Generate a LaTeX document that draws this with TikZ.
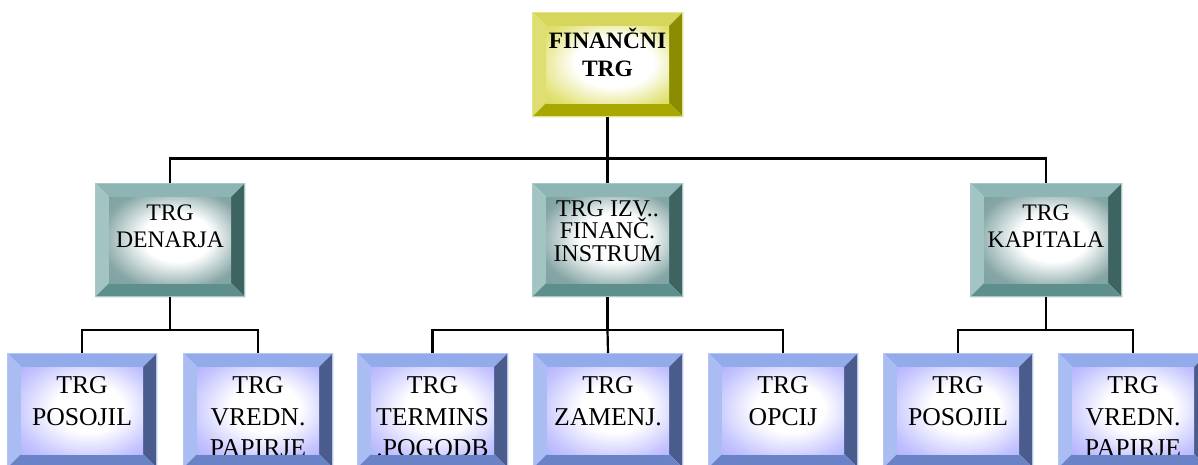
\documentclass[tikz,border=0pt]{standalone}
\usepackage{fontspec}
\setmainfont{Liberation Serif}
\definecolor{bluT}{HTML}{93ABEB}
\definecolor{bluL}{HTML}{A9BDF2}
\definecolor{bluR}{HTML}{4A5C8C}
\definecolor{bluB}{HTML}{6A82C6}
\definecolor{bluE}{HTML}{B4C4F4}
\definecolor{tealT}{HTML}{8DB5B3}
\definecolor{tealL}{HTML}{A2C4C2}
\definecolor{tealR}{HTML}{3E6462}
\definecolor{tealB}{HTML}{5F8F8D}
\definecolor{tealE}{HTML}{A8C8C6}
\definecolor{yelT}{HTML}{D6D65C}
\definecolor{yelL}{HTML}{DEDE72}
\definecolor{yelR}{HTML}{8C8C00}
\definecolor{yelB}{HTML}{A8A800}
\definecolor{yelE}{HTML}{E4E488}
\pgfdeclareradialshading{bluI}{\pgfpoint{4bp}{2bp}}{color(0bp)=(white); color(14bp)=(white); color(30bp)=(white!45!blue!42!white); color(50bp)=(white!20!blue!55!white)}
\pgfdeclareradialshading{tealI}{\pgfpoint{4bp}{2bp}}{color(0bp)=(white); color(14bp)=(white); color(30bp)=(white!55!teal!55!gray); color(50bp)=(white!35!teal!60!gray)}
\pgfdeclareradialshading{yelI}{\pgfpoint{4bp}{2bp}}{color(0bp)=(white); color(16bp)=(white); color(32bp)=(white!70!olive!80!yellow); color(50bp)=(white!50!olive!80!yellow)}
\def\bw{14}
\newcommand\bevbox[6]{%
  \node[boxnode, minimum width=#4, minimum height=#5] (#1) at (#2,#3) {};
  \fill[#6T] (#1.north west) -- (#1.north east) -- ([shift={(-\bw,\bw)}]#1.north east) -- ([shift={(\bw,\bw)}]#1.north west) -- cycle;
  \fill[#6L] (#1.north west) -- ([shift={(\bw,\bw)}]#1.north west) -- ([shift={(\bw,-\bw)}]#1.south west) -- (#1.south west) -- cycle;
  \fill[#6R] (#1.north east) -- ([shift={(-\bw,\bw)}]#1.north east) -- ([shift={(-\bw,-\bw)}]#1.south east) -- (#1.south east) -- cycle;
  \fill[#6B] (#1.south west) -- ([shift={(\bw,-\bw)}]#1.south west) -- ([shift={(-\bw,-\bw)}]#1.south east) -- (#1.south east) -- cycle;
  \shade[shading=#6I] ([shift={(\bw,\bw)}]#1.north west) rectangle ([shift={(-\bw,-\bw)}]#1.south east);
  \draw[#6E, line width=1pt] ([shift={(0.5,0.5)}]#1.north west) rectangle ([shift={(-0.5,-0.5)}]#1.south east);
}
\newcommand\boxtext[6]{%
  \begin{scope}
    \clip ([shift={(\bw,\bw)}]#1.north west) rectangle ([shift={(-\bw,-\bw)}]#1.south east);
    \node[lbl, font={\fontsize{#4}{#5}\selectfont}] (#1t) at (#2,#3) {#6};
  \end{scope}
}
\begin{document}
\begin{tikzpicture}[x=1pt,y=-1pt,
  boxnode/.style={rectangle, inner sep=0pt, outer sep=0pt, draw=none},
  lbl/.style={align=center, anchor=base, inner sep=0pt, text=black},
  conn/.style={draw=black, line width=2.2pt}]
\useasboundingbox (0,0) rectangle (1198,464);
\fill[white] (0,0) rectangle (1198,464);
% top
\bevbox{top}{607.5}{64.5}{151}{105}{yel}
\boxtext{top}{607.5}{76.7}{23.5}{28.4}{\bfseries FINANČNI\\\bfseries TRG}
% middle level
\bevbox{m1}{170}{240}{150}{114}{teal}
\boxtext{m1}{170}{247.3}{23.7}{27.3}{TRG\\DENARJA}
\bevbox{m2}{607.5}{240}{151}{114}{teal}
\boxtext{m2}{607.5}{261.2}{24}{22.3}{TRG IZV..\\FINANČ.\\INSTRUM}
\bevbox{m3}{1046}{240}{152}{114}{teal}
\boxtext{m3}{1046}{247.3}{23.7}{27.3}{TRG\\KAPITALA}
% bottom level
\bevbox{b1}{82}{410.5}{150}{115}{blu}
\boxtext{b1}{82}{425}{25.7}{31.7}{TRG\\POSOJIL}
\bevbox{b2}{258}{410.5}{150}{115}{blu}
\boxtext{b2}{258}{456.7}{25.7}{31.7}{TRG\\VREDN.\\PAPIRJE}
\bevbox{b3}{432.5}{410.5}{151}{115}{blu}
\boxtext{b3}{432.5}{456.7}{25.7}{31.7}{TRG\\TERMINS\\.POGODB}
\bevbox{b4}{608}{410.5}{150}{115}{blu}
\boxtext{b4}{608}{425}{25.7}{31.7}{TRG\\ZAMENJ.}
\bevbox{b5}{783}{410.5}{150}{115}{blu}
\boxtext{b5}{783}{425}{25.7}{31.7}{TRG\\OPCIJ}
\bevbox{b6}{958}{410.5}{150}{115}{blu}
\boxtext{b6}{958}{425}{25.7}{31.7}{TRG\\POSOJIL}
\bevbox{b7}{1133}{410.5}{150}{115}{blu}
\boxtext{b7}{1133}{456.7}{25.7}{31.7}{TRG\\VREDN.\\PAPIRJE}
% connectors
\coordinate (j0) at (607.5,158.5);
\coordinate (j1) at (170,330);
\coordinate (j2) at (607.5,330);
\coordinate (j3) at (1046,330);
\draw[conn] (top.south) -- (j0);
\draw[conn] (j0) -- (m2.north);
\draw[conn] (m1.north) -- (m1.north |- j0) -- (m3.north |- j0) -- (m3.north);
\draw[conn] (m1.south) -- (j1);
\draw[conn] (b1.north) -- (b1.north |- j1) -- (b2.north |- j1) -- (b2.north);
\draw[conn] (m2.south) -- (j2);
\draw[conn] (b3.north) -- (b3.north |- j2) -- (b5.north |- j2) -- (b5.north);
\draw[conn] (j2) -- (b4.north);
\draw[conn] (m3.south) -- (j3);
\draw[conn] (b6.north) -- (b6.north |- j3) -- (b7.north |- j3) -- (b7.north);
\end{tikzpicture}
\end{document}
